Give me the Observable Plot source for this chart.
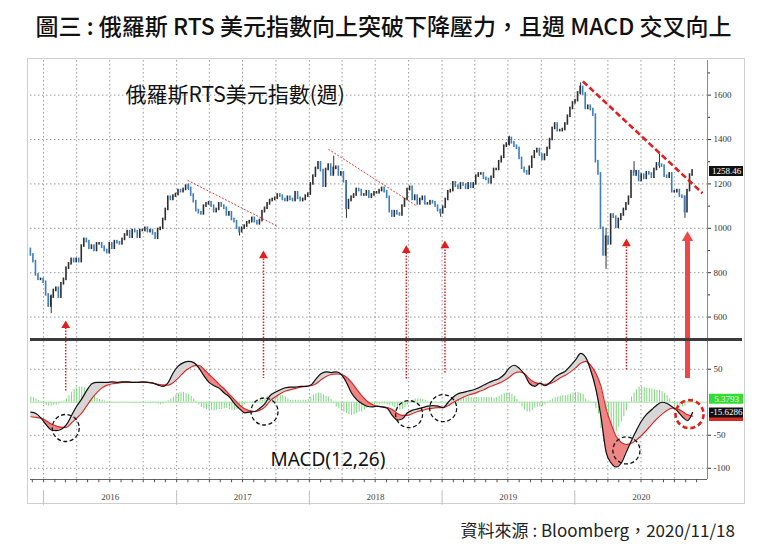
<!DOCTYPE html>
<html><head><meta charset="utf-8">
<script src="https://cdn.jsdelivr.net/npm/d3@7"></script>
<script src="https://cdn.jsdelivr.net/npm/@observablehq/plot@0.6"></script>
<style>
body{margin:0;background:#fff;width:767px;height:558px;position:relative;overflow:hidden;font-family:"Noto Sans CJK TC",sans-serif;}
#title{position:absolute;left:0;top:8px;width:767px;text-align:center;font-size:23px;font-weight:500;color:#111;white-space:nowrap;}
#frame{position:absolute;left:27px;top:58px;width:718px;height:446px;border:1px solid #cfcfcf;box-sizing:border-box;}
#upper{position:absolute;left:0;top:60px;}
#lower{position:absolute;left:0;top:340px;}
#sep{position:absolute;left:30px;top:338px;width:712px;height:3px;background:#3c3c3c;}
#source{position:absolute;right:32px;top:517px;font-size:17px;color:#222;white-space:nowrap;}
</style></head><body>
<div id="title">圖三 : 俄羅斯 RTS 美元指數向上突破下降壓力，且週 MACD 交叉向上</div>
<div id="frame"></div>
<div id="upper"></div><div id="lower"></div><div id="sep"></div>
<div id="source">資料來源 : Bloomberg，2020/11/18</div>
<script>
// weekly closes of the RTS index (USD), one value per Friday, starting 2015-11-27
const firstOpen = 905;
const close2015 = [880, 850, 790, 770, 770];
const close2016 = [757, 700, 650, 690, 720, 730, 690, 750, 770, 820, 840, 860, 850,
  860, 850, 920, 950, 940, 910, 920, 900, 930, 930, 915, 900, 890,
  930, 910, 940, 935, 930, 950, 970, 985, 960, 990, 985, 960, 990, 990,
  1000, 985, 990, 975, 955, 995, 1000, 1040, 1085, 1140, 1130, 1145, 1152];
const close2017 = [1170, 1165, 1175, 1190, 1180, 1150, 1120, 1080, 1070, 1065, 1100, 1110, 1115,
  1100, 1075, 1085, 1110, 1100, 1090, 1060, 1070, 1040, 1030, 1000, 985, 1000,
  1010, 1025, 1030, 1045, 1030, 1020, 1035, 1075, 1090, 1110, 1125, 1130, 1135,
  1150, 1145, 1130, 1125, 1140, 1130, 1125, 1160, 1135, 1125, 1130, 1145, 1154];
const close2018 = [1200, 1235, 1270, 1295, 1260, 1190, 1265, 1285, 1240, 1270, 1275, 1240, 1250,
  1210, 1090, 1125, 1140, 1150, 1175, 1170, 1150, 1150, 1165, 1140, 1150, 1160,
  1160, 1170, 1180, 1165, 1140, 1075, 1055, 1075, 1065, 1060, 1100, 1130, 1175,
  1185, 1130, 1145, 1110, 1130, 1140, 1110, 1110, 1120, 1115, 1100, 1080, 1070];
const close2019 = [1095, 1130, 1165, 1170, 1205, 1190, 1180, 1200, 1195, 1180, 1200, 1185, 1200,
  1235, 1245, 1245, 1225, 1220, 1205, 1230, 1265, 1265, 1300, 1320, 1370, 1380,
  1405, 1385, 1370, 1360, 1315, 1270, 1255, 1245, 1275, 1320, 1345, 1355, 1330,
  1310, 1330, 1360, 1400, 1450, 1470, 1440, 1440, 1445, 1470, 1505, 1540, 1565];
const close2020 = [1575, 1610, 1635, 1605, 1540, 1550, 1535, 1510, 1300, 1245, 1000, 880, 960,
  930, 1060, 1050, 1005, 1040, 1060, 1085, 1110, 1140, 1255, 1240, 1255, 1215,
  1240, 1225, 1250, 1245, 1230, 1265, 1290, 1285, 1280, 1235, 1230, 1245, 1165,
  1165, 1170, 1145, 1140, 1075, 1170, 1240, 1258.46];
// notable weekly extremes (wicks): week index, low, high
const wickWeek = [8, 62, 82, 119, 124, 161, 188, 216, 226, 237, 247, 257];
const wickLow  = [615, 1170, 965, 1240, 1045, 1050, 1370, 1600, 815, 1250, 1270, 1045];
const wickHigh = [700, 1200, 1000, 1325, 1215, 1085, 1415, 1655, 1000, 1300, 1335, 1145];

// MACD(12,26) and signal line, read every second week
const macdLine = [-15, -17, -24, -34, -42, -43, -41, -34, -20, -6,
  5, 18, 28, 30, 30, 30, 31, 30, 31, 31,
  30, 30, 31, 30, 29, 26, 24, 30, 45, 55,
  60, 62, 60, 52, 40, 30, 25, 21, 14, 8,
  -2, -10, -16, -15, -14, -9, -2, 10, 15, 19,
  22, 23, 23, 24, 24, 26, 35, 43, 46, 45,
  46, 42, 30, 14, 4, -2, -6, -7, -6, -7,
  -9, -20, -27, -25, -16, -12, -10, -8, -6, -5,
  -6, -8, 0, 8, 13, 15, 17, 19, 22, 26,
  30, 33, 36, 42, 52, 56, 51, 42, 28, 24,
  29, 25, 30, 38, 43, 47, 55, 64, 74, 68,
  48, 20, -22, -75, -92, -98, -92, -75, -58, -42,
  -28, -18, -11, -4, 0, -2, -7, -13, -22, -28, -15.63];
const signalLine = [-22, -23, -24, -28, -33, -36, -38, -38, -31, -24,
  -16, -5, 6, 15, 22, 26, 28, 29, 30, 30,
  30, 30, 30, 30, 29, 27, 26, 26, 30, 37,
  45, 51, 55, 56, 50, 42, 35, 27, 20, 12,
  4, -4, -10, -13, -14, -12, -7, 2, 8, 13,
  17, 19, 21, 23, 24, 25, 28, 34, 39, 42,
  43, 42, 38, 30, 20, 10, 2, -3, -6, -7,
  -8, -11, -17, -20, -20, -17, -14, -12, -10, -9,
  -8, -8, -5, 0, 4, 8, 11, 13, 16, 19,
  23, 26, 29, 33, 38, 44, 46, 43, 35, 30,
  28, 27, 28, 32, 37, 41, 46, 52, 59, 62,
  56, 44, 24, -10, -33, -52, -61, -64, -62, -57,
  -50, -42, -33, -25, -18, -12, -9, -10, -14, -19, -21];
// weekly histogram
const histogram = [8, 7, 5, 3, 1, -3, -5, -6, -6, -5,
  -4, -3, -1, 2, 5, 10, 15, 19, 22, 23,
  23, 22, 18, 15, 12, 10, 6, 4, 3, 2,
  1, -1, -1, -1, -1, -1, -1, -1, -1, -1,
  -1, -1, -1, -1, -1, -1, -1, -2, -2, -2,
  -3, -4, -3, -1, 2, 5, 8, 11, 13, 15,
  15, 13, 12, 9, 5, 1, -4, -8, -10, -11,
  -12, -12, -13, -12, -11, -11, -10, -10, -11, -12,
  -12, -11, -10, -7, -4, -2, 0, 1, 1, 2,
  3, 3, 6, 9, 11, 12, 12, 11, 10, 10,
  8, 5, 3, 3, 3, 3, 2, 3, 3, 4,
  8, 11, 13, 14, 13, 11, 9, 8, 4, -2,
  -7, -10, -13, -15, -17, -19, -20, -19, -17, -15,
  -15, -12, -9, -7, -5, -4, -3, -3, -2, -3,
  -4, -5, -6, -8, -10, -12, -11, -8, -4, 0,
  3, 5, 5, 5, 4, 3, 1, 0, -1, -1,
  0, 1, 0, -1, 0, 1, 2, 4, 6, 7,
  7, 7, 8, 7, 6, 7, 7, 7, 7, 7,
  7, 7, 6, 7, 9, 11, 13, 14, 14, 12,
  9, 4, -2, -7, -12, -15, -15, -13, -9, -7,
  -7, -6, -4, -2, 2, 5, 7, 8, 9, 10,
  10, 11, 12, 14, 15, 15, 13, 12, 5, 2,
  -1, -2, -10, -18, -40, -60, -73, -70, -62, -53,
  -45, -38, -30, -22, -13, -2, 8, 14, 19, 23,
  23, 22, 21, 21, 20, 19, 18, 18, 16, 13,
  10, 5, -2, -5, -6, -7, -7, -6, 1, 4,
  5.3793];

// axis ticks / labels
const priceTicks = [600, 800, 1000, 1200, 1400, 1600];
const priceMinor = [700, 900, 1100, 1300, 1500, 1700];
const macdTicks = [50, -50, -100];
const macdGrid = [50, -50, -100];
const years = [2016, 2017, 2018, 2019, 2020];
const lastTags = {price: 1258.46, hist: 5.3793, macd: -15.6286, signal: -21};

// annotations (week index from first bar, value)
const trendThin = [{i1: 61.6, v1: 1216, i2: 96.9, v2: 1009}, {i1: 116.9, v1: 1356, i2: 151.8, v2: 1099}];
const trendMain = [{i1: 216.9, v1: 1662, i2: 263.9, v2: 1158}];
const arrowsDotted = [{i: 13.7, tip: 581, base: 15}, {i: 91.4, tip: 896, base: 36}, {i: 147.5, tip: 919, base: 33},
  {i: 162.7, tip: 941, base: 44}, {i: 234, tip: 950, base: 48}];
const arrowMain = [{i: 258, tip: 977, base: 36}];
const circlesBlack = [{i: 13.7, v: -39}, {i: 91.8, v: -14}, {i: 148.6, v: -18}, {i: 162, v: -9}, {i: 234, v: -73}];
const circlesRed = [{i: 258.8, v: -18}];

const DAY = 864e5;
const t0 = Date.UTC(2015, 10, 27);
const weekDate = i => new Date(t0 + i * 7 * DAY);
const closes = [...close2015, ...close2016, ...close2017, ...close2018, ...close2019, ...close2020];
const candles = closes.map((c, i) => ({date: weekDate(i), open: i ? closes[i - 1] : firstOpen, close: c}));
const wicks = wickWeek.map((w, k) => ({date: weekDate(w), lo: wickLow[k], hi: wickHigh[k]}));
const macdRows = macdLine.map((m, j) => ({date: weekDate(2 * j), macd: m, signal: signalLine[j]}));
const histRows = histogram.map((h, i) => ({date: weekDate(i), h}));
const xDomain = [new Date(Date.UTC(2015, 10, 26)), new Date(Date.UTC(2020, 11, 31))];
const quarters = d3.utcMonth.every(3).range(new Date(Date.UTC(2016, 0, 1)), xDomain[1]);
const months = d3.utcMonth.range(new Date(Date.UTC(2015, 11, 1)), xDomain[1]);
const yearStarts = years.map(y => new Date(Date.UTC(y, 0, 1)));

const dotted = {stroke: "#9a9a9a", strokeOpacity: 1, strokeDasharray: "1.5,2.5"};
const red = "#e0201f";
const upColor = "#2e2e2e", downColor = "#3b7ec2";

const upper = Plot.plot({
  width: 767, height: 281, marginTop: 0, marginBottom: 0, marginLeft: 30, marginRight: 60,
  x: {type: "utc", domain: xDomain, axis: null},
  y: {domain: [490, 1756]},
  style: {background: "transparent", fontFamily: "Liberation Serif", fontSize: "9px"},
  marks: [
    Plot.gridX(quarters, dotted),
    Plot.gridY(priceTicks, dotted),
    Plot.ruleX([xDomain[1]], {stroke: "#8a8a8a"}),
    Plot.axisY(priceTicks, {anchor: "right", tickSize: 3, tickPadding: 3, tickFormat: d => String(d), label: null, color: "#333"}),
    Plot.axisY(priceMinor, {anchor: "right", tickSize: 2, tickFormat: () => "", label: null, color: "#333"}),
    Plot.ruleX(wicks, {x: "date", y1: "lo", y2: "hi", stroke: "#333", strokeWidth: 1}),
    Plot.rect(candles, {
      x1: d => new Date(d.date.getTime() - 2.2 * DAY), x2: d => new Date(d.date.getTime() + 2.2 * DAY),
      y1: "open", y2: "close", insetTop: -1.3, insetBottom: -1.3,
      fill: d => d.close >= d.open ? upColor : downColor
    }),
    Plot.link(trendThin, {x1: d => weekDate(d.i1), y1: "v1", x2: d => weekDate(d.i2), y2: "v2", stroke: "#e23b3b", strokeWidth: 1, strokeDasharray: "2,1.5"}),
    Plot.link(trendMain, {x1: d => weekDate(d.i1), y1: "v1", x2: d => weekDate(d.i2), y2: "v2", stroke: red, strokeWidth: 2.6, strokeDasharray: "6,3"}),
    Plot.ruleX(arrowsDotted, {x: d => weekDate(d.i), y1: 490, y2: d => d.tip - 15, stroke: red, strokeWidth: 1.5, strokeDasharray: "1.5,1.5"}),
    Plot.dot(arrowsDotted, {x: d => weekDate(d.i), y: d => d.tip - 19, symbol: "triangle", r: 3.3, fill: red, stroke: "none"}),
    Plot.ruleX(arrowMain, {x: d => weekDate(d.i), y1: 490, y2: d => d.tip - 35, stroke: "#f04848", strokeWidth: 5}),
    Plot.dot(arrowMain, {x: d => weekDate(d.i), y: d => d.tip - 20, symbol: "triangle", r: 4.2, fill: "#f04848", stroke: "none"}),
    Plot.ruleY([lastTags.price], {insetLeft: 679, insetRight: -36, stroke: "#111", strokeWidth: 10}),
    Plot.text([lastTags.price], {y: d => d, frameAnchor: "right", dx: 19, textAnchor: "middle", text: d => d.toFixed(2), fill: "#fff", fontSize: 9}),
    Plot.text(["俄羅斯RTS美元指數(週)"], {frameAnchor: "top-left", dx: 95, dy: 27, text: d => d, textAnchor: "start", lineAnchor: "top",
      fontSize: 21, fontFamily: "Noto Sans CJK TC", fill: "#111"})
  ]
});
document.getElementById("upper").append(upper);

const lower = Plot.plot({
  width: 767, height: 165, marginTop: 1, marginBottom: 26, marginLeft: 30, marginRight: 60,
  x: {type: "utc", domain: xDomain, axis: null},
  y: {domain: [-117, 92]},
  style: {background: "transparent", fontFamily: "Liberation Serif", fontSize: "9px"},
  marks: [
    Plot.gridX(quarters, dotted),
    Plot.gridY(macdGrid, dotted),
    Plot.ruleX([xDomain[1]], {stroke: "#8a8a8a"}),
    Plot.axisY(macdTicks, {anchor: "right", tickSize: 3, tickPadding: 3, tickFormat: d => String(d), label: null, color: "#333"}),
    Plot.ruleX(histRows, {x: "date", y1: 0, y2: "h", stroke: "#7fd67f", strokeWidth: 1}),
    Plot.ruleY([0], {stroke: "#a8e4a8"}),
    Plot.areaY(macdRows, {x: "date", y1: "signal", y2: d => Math.max(d.macd, d.signal), fill: "#d6d6d6", curve: "monotone-x"}),
    Plot.areaY(macdRows, {x: "date", y1: "signal", y2: d => Math.min(d.macd, d.signal), fill: "#f08585", curve: "monotone-x"}),
    Plot.line(macdRows, {x: "date", y: "signal", stroke: "#d62a26", strokeWidth: 1.2, curve: "monotone-x"}),
    Plot.line(macdRows, {x: "date", y: "macd", stroke: "#111", strokeWidth: 1.2, curve: "monotone-x"}),
    Plot.ruleX(arrowsDotted, {x: d => weekDate(d.i), y1: 92, y2: "base", stroke: red, strokeWidth: 1.5, strokeDasharray: "1.5,1.5"}),
    Plot.ruleX(arrowMain, {x: d => weekDate(d.i), y1: 92, y2: "base", stroke: "#f04848", strokeWidth: 5}),
    Plot.dot(circlesBlack, {x: d => weekDate(d.i), y: "v", r: 13.5, stroke: "#111", strokeWidth: 1.3, strokeDasharray: "4,2.5", fill: "none"}),
    Plot.dot(circlesRed, {x: d => weekDate(d.i), y: "v", r: 14, stroke: red, strokeWidth: 2.6, strokeDasharray: "5,3", fill: "none"}),
    Plot.ruleY([-117], {stroke: "#666"}),
    Plot.ruleX(months, {y1: -117, y2: -122, stroke: "#555"}),
    Plot.ruleX(yearStarts, {y1: -134, y2: -156, stroke: "#bdbdbd"}),
    Plot.text(years, {x: d => new Date(Date.UTC(d, 6, 2)), y: -144, text: d => String(d), fill: "#444", fontSize: 9}),
    Plot.ruleY([lastTags.signal], {insetLeft: 679, insetRight: -36, stroke: "#d62a26", strokeWidth: 10}),
    Plot.ruleY([lastTags.macd], {insetLeft: 679, insetRight: -36, stroke: "#111", strokeWidth: 10}),
    Plot.text([lastTags.macd], {y: d => d, frameAnchor: "right", dx: 19, textAnchor: "middle", text: d => d.toFixed(4), fill: "#fff", fontSize: 9}),
    Plot.ruleY([lastTags.hist], {insetLeft: 679, insetRight: -36, stroke: "#33dd33", strokeWidth: 10}),
    Plot.text([lastTags.hist], {y: d => d, frameAnchor: "right", dx: 19, textAnchor: "middle", text: d => d.toFixed(4), fill: "#f4fff4", fontSize: 9}),
    Plot.text(["MACD(12,26)"], {frameAnchor: "top-left", dx: 240, dy: 111, text: d => d, textAnchor: "start", lineAnchor: "top",
      fontSize: 19, fontFamily: "Noto Sans", fill: "#111"})
  ]
});
document.getElementById("lower").append(lower);
</script>
</body></html>
